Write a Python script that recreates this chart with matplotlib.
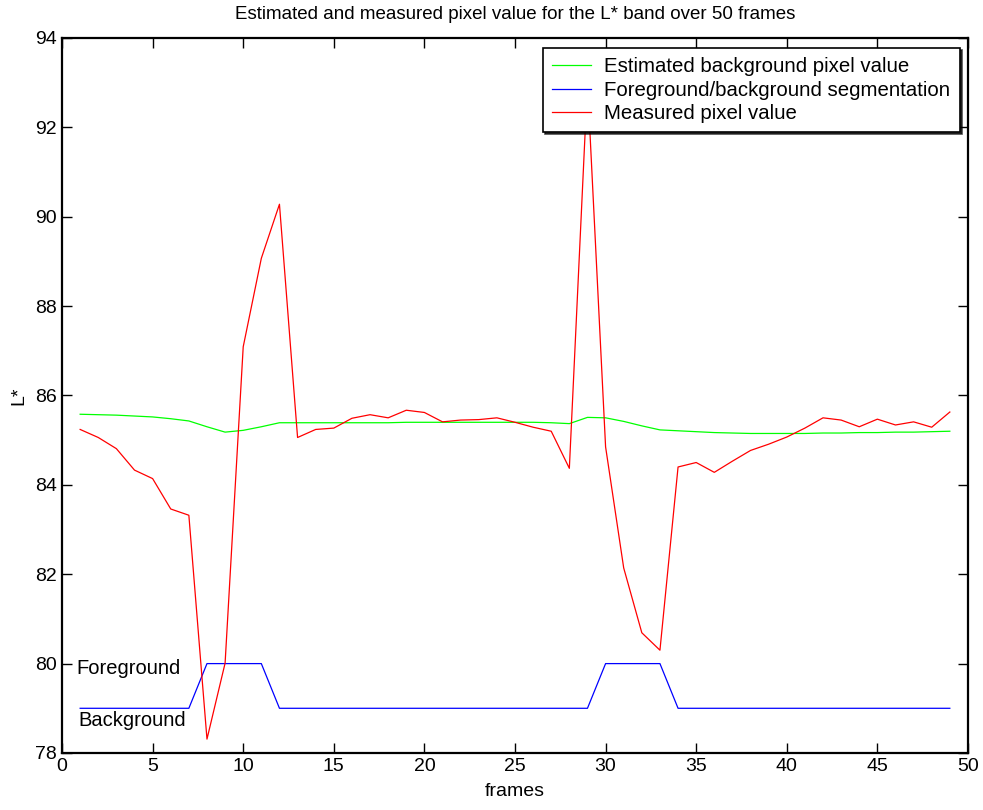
import numpy as np
import matplotlib.pyplot as plt

plt.rcParams['font.family'] = ['Liberation Sans', 'DejaVu Sans']

# frame index 1..49
frames = list(range(1, 50))

# estimated background value of the L* band
estimated = [85.58, 85.57, 85.56, 85.54, 85.52, 85.48, 85.43, 85.30, 85.18, 85.22,
             85.30, 85.39, 85.39, 85.39, 85.39, 85.39, 85.39, 85.39, 85.40, 85.40,
             85.40, 85.40, 85.40, 85.40, 85.40, 85.40, 85.39, 85.37, 85.51, 85.50,
             85.42, 85.32, 85.23, 85.21, 85.19, 85.17, 85.16, 85.15, 85.15, 85.15,
             85.15, 85.16, 85.16, 85.17, 85.17, 85.18, 85.18, 85.19, 85.20]

# segmentation mask: 79 = background, 80 = foreground
segmentation = [79, 79, 79, 79, 79, 79, 79, 80, 80, 80,
                80, 79, 79, 79, 79, 79, 79, 79, 79, 79,
                79, 79, 79, 79, 79, 79, 79, 79, 79, 80,
                80, 80, 80, 79, 79, 79, 79, 79, 79, 79,
                79, 79, 79, 79, 79, 79, 79, 79, 79]

# measured pixel value
measured = [85.24, 85.06, 84.81, 84.33, 84.14, 83.46, 83.32, 78.31, 80.01, 87.09,
            89.07, 90.28, 85.06, 85.24, 85.27, 85.49, 85.57, 85.50, 85.67, 85.62,
            85.41, 85.45, 85.46, 85.50, 85.40, 85.29, 85.20, 84.37, 93.00, 84.85,
            82.14, 80.69, 80.30, 84.40, 84.50, 84.28, 84.53, 84.77, 84.91, 85.07,
            85.27, 85.50, 85.45, 85.30, 85.47, 85.34, 85.41, 85.29, 85.63]

fig = plt.figure(figsize=(9.83, 8.10), dpi=100)
ax = fig.add_axes([0.0631, 0.0704, 0.9216, 0.8827])

ax.plot(frames, estimated, color=(0, 1, 0), lw=0.9, label='Estimated background pixel value')
ax.plot(frames, segmentation, color=(0, 0, 1), lw=0.9, label='Foreground/background segmentation')
ax.plot(frames, measured, color=(1, 0, 0), lw=0.9, label='Measured pixel value')

ax.text(0.8, 79.88, 'Foreground', fontsize=14.5, ha='left', va='center')
ax.text(0.9, 78.72, 'Background', fontsize=14.5, ha='left', va='center')

ax.set_xlim(0, 50)
ax.set_ylim(78, 94)
ax.set_xticks(np.arange(0, 51, 5))
ax.set_yticks(np.arange(78, 95, 2))
ax.tick_params(direction='in', top=True, right=True, length=7, width=1, labelsize=14)
for s in ax.spines.values():
    s.set_linewidth(1.6)

ax.set_xlabel('frames', fontsize=14, labelpad=6)
ax.set_ylabel('L*', fontsize=14, labelpad=6)
ax.set_title('Estimated and measured pixel value for the L* band over 50 frames',
             fontsize=13.5, pad=14)

leg = ax.legend(loc='upper right', bbox_to_anchor=(0.991, 0.986), fancybox=False,
                shadow={'ox': 1.5, 'oy': -1.5, 'color': 'black', 'alpha': 0.7},
                fontsize=14.7, handlelength=1.9, handletextpad=0.65, borderpad=0.45,
                labelspacing=0.22, borderaxespad=0, framealpha=1)
leg.get_frame().set_edgecolor('black')
leg.get_frame().set_linewidth(1.2)

fig.savefig('out.png', dpi=100)
